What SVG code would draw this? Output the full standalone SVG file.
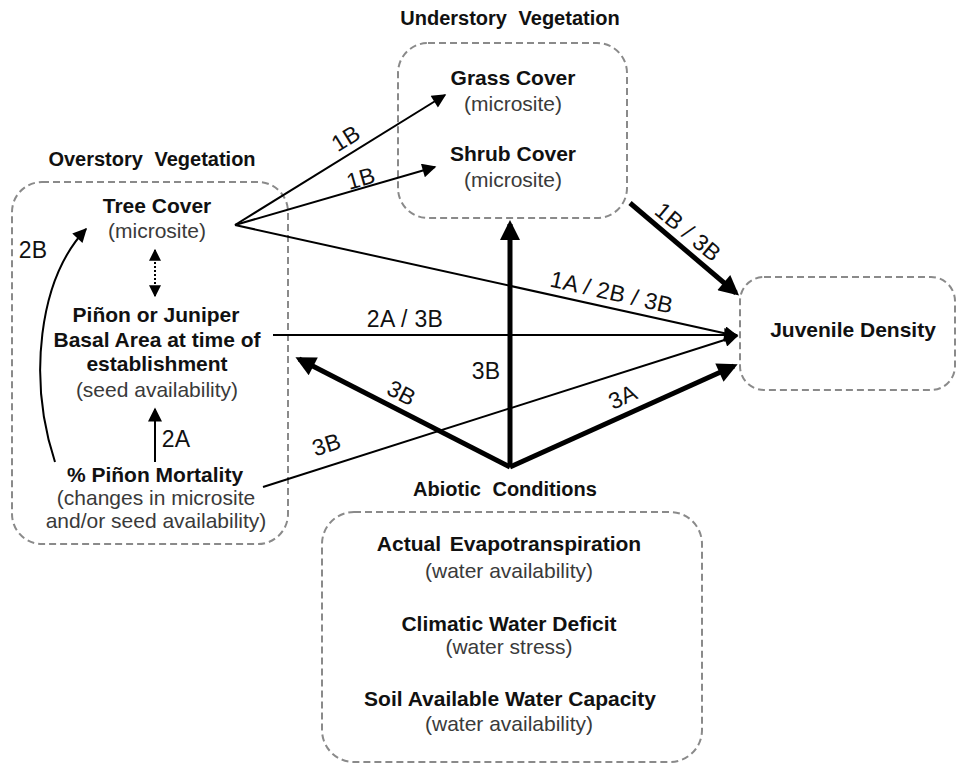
<svg xmlns="http://www.w3.org/2000/svg" width="960" height="764" viewBox="0 0 960 764">
<style>
.box{fill:none;stroke:#8a8a8a;stroke-width:2;stroke-dasharray:7,4}
.b{font-family:"Liberation Sans",Arial,sans-serif;font-weight:bold;font-size:21px;fill:#111;text-anchor:middle}
.r{font-family:"Liberation Sans",Arial,sans-serif;font-size:21px;fill:#3a3a3a;text-anchor:middle}
.t{font-family:"Liberation Sans",Arial,sans-serif;font-weight:bold;font-size:20px;fill:#111;text-anchor:middle;word-spacing:6px}
.lb{font-family:"Liberation Sans",Arial,sans-serif;font-size:23px;fill:#111;text-anchor:middle;letter-spacing:0.3px}
.thin{fill:none;stroke:#000;stroke-width:2}
.thick{fill:none;stroke:#000;stroke-width:5}
</style>
<defs>
<marker id="ah" viewBox="0 0 10 10" refX="9" refY="5" markerUnits="userSpaceOnUse" markerWidth="16" markerHeight="14" orient="auto"><path d="M0,0 L10,5 L0,10 z" fill="#000"/></marker>
<marker id="ahT" viewBox="0 0 10 10" refX="8" refY="5" markerUnits="userSpaceOnUse" markerWidth="22" markerHeight="20" orient="auto"><path d="M0,0 L10,5 L0,10 z" fill="#000"/></marker>
<marker id="ahS" viewBox="0 0 10 10" refX="9" refY="5" markerUnits="userSpaceOnUse" markerWidth="12" markerHeight="14" orient="auto-start-reverse"><path d="M0,0 L10,5 L0,10 z" fill="#000"/></marker>
</defs>
<rect width="960" height="764" fill="#fff"/>

<g id="overstory">
<rect class="box" x="12" y="182" width="276" height="362" rx="30"/>
<text class="t" x="152" y="166">Overstory Vegetation</text>
</g>
<g id="tree-cover">
<text class="b" x="157" y="213">Tree Cover</text>
<text class="r" x="157" y="238">(microsite)</text>
</g>
<g id="basal-area">
<text class="b" x="156" y="322">Piñon or Juniper</text>
<text class="b" x="157" y="347">Basal Area at time of</text>
<text class="b" x="157" y="371">establishment</text>
<text class="r" x="157" y="397">(seed availability)</text>
</g>
<g id="mortality">
<text class="b" x="155" y="482">% Piñon Mortality</text>
<text class="r" x="156" y="505">(changes in microsite</text>
<text class="r" x="156" y="528">and/or seed availability)</text>
</g>

<g id="understory">
<rect class="box" x="398" y="43" width="229" height="175" rx="30"/>
<text class="t" x="510" y="25">Understory Vegetation</text>
</g>
<g id="grass">
<text class="b" x="513" y="85">Grass Cover</text>
<text class="r" x="513" y="111">(microsite)</text>
</g>
<g id="shrub">
<text class="b" x="513" y="161">Shrub Cover</text>
<text class="r" x="513" y="187">(microsite)</text>
</g>

<g id="juvenile">
<rect class="box" x="740" y="277" width="215" height="113" rx="24"/>
<text class="b" x="853" y="337">Juvenile Density</text>
</g>

<g id="abiotic">
<rect class="box" x="322" y="512" width="380" height="250" rx="32"/>
<text class="t" x="505" y="496">Abiotic Conditions</text>
<text class="b" x="509" y="551" word-spacing="3">Actual Evapotranspiration</text>
<text class="r" x="509" y="578">(water availability)</text>
<text class="b" x="509" y="631">Climatic Water Deficit</text>
<text class="r" x="509" y="654">(water stress)</text>
<text class="b" x="510" y="706">Soil Available Water Capacity</text>
<text class="r" x="509" y="731">(water availability)</text>
</g>

<g id="connectors">
<line class="thin" x1="235" y1="225" x2="445" y2="95" marker-end="url(#ah)"/>
<line class="thin" x1="235" y1="225" x2="435" y2="167" marker-end="url(#ah)"/>
<line class="thin" x1="235" y1="225" x2="737" y2="336" marker-end="url(#ah)"/>
<line class="thin" x1="273" y1="335" x2="737" y2="335" marker-end="url(#ah)"/>
<line class="thin" x1="263" y1="487" x2="737" y2="336" marker-end="url(#ah)"/>
<line class="thin" x1="155" y1="462" x2="155" y2="409" marker-end="url(#ah)"/>
<line x1="155" y1="250" x2="155" y2="296" stroke="#000" stroke-width="2" stroke-dasharray="2,2" marker-start="url(#ahS)" marker-end="url(#ahS)"/>
<path class="thin" d="M55,462 C28,380 38,280 86,229" marker-end="url(#ah)"/>
<line class="thick" x1="630" y1="203" x2="736" y2="293" marker-end="url(#ahT)"/>
<line class="thick" x1="510" y1="467" x2="510" y2="224" marker-end="url(#ahT)"/>
<line class="thick" x1="510" y1="467" x2="299" y2="359" marker-end="url(#ahT)"/>
<line class="thick" x1="510" y1="467" x2="734" y2="366" marker-end="url(#ahT)"/>

<text class="lb" transform="translate(350,145) rotate(-32)">1B</text>
<text class="lb" transform="translate(363,186) rotate(-16)">1B</text>
<text class="lb" transform="translate(610,300) rotate(12.7)">1A / 2B / 3B</text>
<text class="lb" x="405" y="327">2A / 3B</text>
<text class="lb" transform="translate(683,238) rotate(40)">1B / 3B</text>
<text class="lb" x="486" y="379">3B</text>
<text class="lb" transform="translate(398,400) rotate(27)">3B</text>
<text class="lb" transform="translate(626,404) rotate(-24.4)">3A</text>
<text class="lb" transform="translate(329,452) rotate(-17.8)">3B</text>
<text class="lb" x="176" y="447">2A</text>
<text class="lb" x="33" y="258">2B</text>
</g>
</svg>
